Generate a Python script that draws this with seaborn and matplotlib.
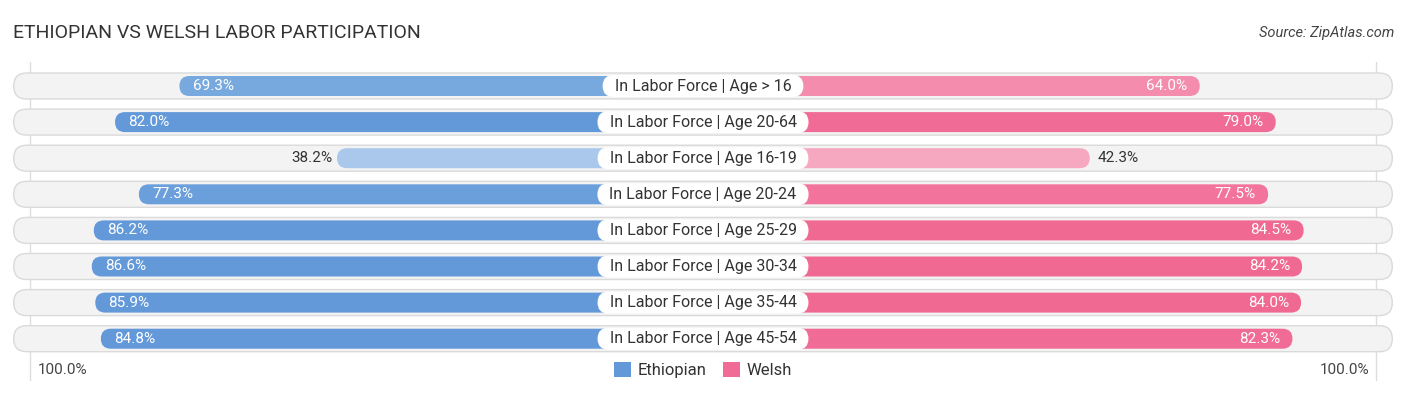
import numpy as np
import pandas as pd
import matplotlib
matplotlib.use("Agg")
import matplotlib.pyplot as plt
import seaborn as sns
from matplotlib.patches import FancyBboxPatch, Patch

# data
rows = ["In Labor Force | Age > 16", "In Labor Force | Age 20-64", "In Labor Force | Age 16-19",
        "In Labor Force | Age 20-24", "In Labor Force | Age 25-29", "In Labor Force | Age 30-34",
        "In Labor Force | Age 35-44", "In Labor Force | Age 45-54"]
ethiopian = [69.3, 82.0, 38.2, 77.3, 86.2, 86.6, 85.9, 84.8]
welsh = [64.0, 79.0, 42.3, 77.5, 84.5, 84.2, 84.0, 82.3]
eth_colors = ["#77a9de", "#6399d9", "#a9c8ec", "#6a9fdb", "#6399d9", "#6399d9", "#6399d9", "#6399d9"]
wel_colors = ["#f48cae", "#f06b95", "#f7a8c1", "#f2749c", "#f06993", "#f06993", "#f06993", "#f06b95"]

OFF = 34.0          # half-width of the centre label area, in % units
XMAX = 138.7
PX_X = 1406 / (2 * XMAX)   # px per x unit
PX_Y = 36.1                # px per row
ROW0 = 86

df = pd.DataFrame({
    "row": rows * 2,
    "side": ["Ethiopian"] * len(rows) + ["Welsh"] * len(rows),
    "x": [-(OFF + v) for v in ethiopian] + [OFF + v for v in welsh],
})

sns.set_style("white")
plt.rcParams["font.family"] = ["Roboto", "DejaVu Sans"]

fig = plt.figure(figsize=(14.06, 3.95), dpi=100)
ax = fig.add_axes([0, 0, 1, 1])

bar_h = 20 / PX_Y
sns.barplot(data=df, y="row", x="x", hue="side", orient="h", dodge=False,
            width=bar_h, palette=["#6399d9", "#f06b95"], legend=False, ax=ax, zorder=3)

ax.set_xlim(-XMAX, XMAX)
ax.set_ylim((395 - ROW0) / PX_Y, -ROW0 / PX_Y)
ax.axis("off")

aspect = PX_X / PX_Y

# background pills
bg_h = 26 / PX_Y
for i in range(len(rows)):
    ax.add_patch(FancyBboxPatch((-136, i - bg_h / 2), 272, bg_h,
                                boxstyle="round,pad=0,rounding_size=%f" % (13 / PX_X),
                                mutation_aspect=aspect, fc="#f3f3f3", ec="#dadada",
                                lw=1, zorder=1))

# gridlines at the outer ends
for gx in (-132.7, 132.8):
    ax.plot([gx, gx], [(62 - ROW0) / PX_Y, (380 - ROW0) / PX_Y], color="#dddddd", lw=1, zorder=0.5)

# swap seaborn rectangles for rounded ones
bars = list(ax.patches)
for p in bars:
    if isinstance(p, FancyBboxPatch):
        continue
    x0, w, y0, h = p.get_x(), p.get_width(), p.get_y(), p.get_height()
    if w == 0:
        continue
    left = min(x0, x0 + w)
    width = abs(w)
    i = int(round(y0 + h / 2))
    col = eth_colors[i] if (x0 + w) < 0 else wel_colors[i]
    p.remove()
    ax.add_patch(FancyBboxPatch((left, y0), width, h,
                                boxstyle="round,pad=0,rounding_size=%f" % (10 / PX_X),
                                mutation_aspect=aspect, fc=col, ec="none", zorder=3))

# value labels
for i, (e, w) in enumerate(zip(ethiopian, welsh)):
    xe = -(OFF + e)
    if e > 55:
        ax.text(xe + 2.6, i, "%.1f%%" % e, ha="left", va="center", color="white", fontsize=11, zorder=5)
    else:
        ax.text(xe - 1.0, i, "%.1f%%" % e, ha="right", va="center", color="#333333", fontsize=11, zorder=5)
    xw = OFF + w
    if w > 55:
        ax.text(xw - 2.4, i, "%.1f%%" % w, ha="right", va="center", color="white", fontsize=11, zorder=5)
    else:
        ax.text(xw + 1.6, i, "%.1f%%" % w, ha="left", va="center", color="#333333", fontsize=11, zorder=5)

# centre labels with white pills
fig.canvas.draw()
r = fig.canvas.get_renderer()
lab_h = 22 / PX_Y
for i, lab in enumerate(rows):
    t = ax.text(0, i, lab, ha="center", va="center", fontsize=11.5, color="#333333", zorder=6)
    bb = t.get_window_extent(renderer=r)
    wd = (bb.width + 24) / PX_X
    ax.add_patch(FancyBboxPatch((-wd / 2, i - lab_h / 2), wd, lab_h,
                                boxstyle="round,pad=0,rounding_size=%f" % (11 / PX_X),
                                mutation_aspect=aspect, fc="white", ec="none", zorder=5))

# axis end labels
yb = (370 - ROW0) / PX_Y
ax.text((38 - 703) / PX_X, yb, "100.0%", ha="left", va="center", fontsize=11, color="#444444")
ax.text((1369 - 703) / PX_X, yb, "100.0%", ha="right", va="center", fontsize=11, color="#444444")

handles = [Patch(fc="#6399d9", ec="none", label="Ethiopian"),
           Patch(fc="#f06b95", ec="none", label="Welsh")]
ax.legend(handles=handles, loc="center", bbox_to_anchor=(0.5, 1 - 370 / 395), ncol=2,
          frameon=False, fontsize=12, handlelength=1.0, handleheight=1.0,
          handletextpad=0.4, columnspacing=1.0, labelcolor="#333333")

fig.text(13 / 1406, 1 - 33 / 395, "ETHIOPIAN VS WELSH LABOR PARTICIPATION", ha="left", va="center",
         fontsize=14, color="#333333")
fig.text(1394 / 1406, 1 - 33 / 395, "Source: ZipAtlas.com", ha="right", va="center",
         fontsize=10.5, color="#444444", style="italic")

fig.savefig("out.png", dpi=100)
